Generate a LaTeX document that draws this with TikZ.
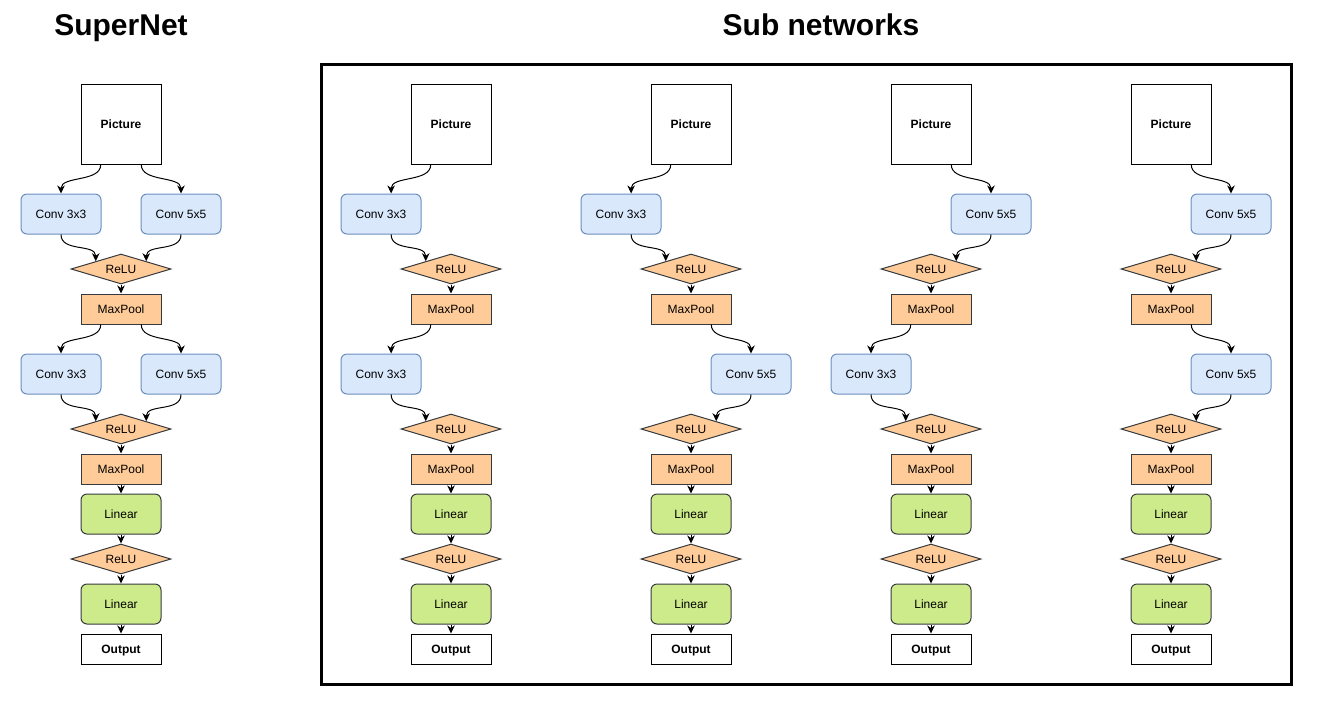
\documentclass[tikz,border=0pt]{standalone}
\usepackage{fontspec}
\setmainfont{Liberation Sans}
\usetikzlibrary{shapes.geometric,arrows.meta,calc}
\definecolor{convfill}{HTML}{DAE8FC}
\definecolor{convline}{HTML}{6C8EBF}
\definecolor{orangefill}{HTML}{FFCC99}
\definecolor{darkline}{HTML}{36393D}
\definecolor{greenfill}{HTML}{CDEB8B}
\newcommand\cv[2]{\draw[conn] (#1) .. controls +(0,18) and +(0,-18) .. (#2);}
\newcommand\st[2]{\draw[conn] (#1) -- (#2);}
\newcommand\colhead[2]{%
  \node[picbox] (#1pic) at (#2,124) {Picture};
  \node[relubox] (#1r1) at (#2,269) {ReLU};
  \node[poolbox] (#1m1) at (#2,309) {MaxPool};
  \st{#1r1.south}{#1m1.north}}
\newcommand\coltail[2]{%
  \node[relubox] (#1r2) at (#2,429) {ReLU};
  \node[poolbox] (#1m2) at (#2,469) {MaxPool};
  \node[linbox] (#1l1) at (#2,514) {Linear};
  \node[relubox] (#1r3) at (#2,559) {ReLU};
  \node[linbox] (#1l2) at (#2,604) {Linear};
  \node[outbox] (#1o) at (#2,649) {Output};
  \st{#1r2.south}{#1m2.north}
  \st{#1m2.south}{#1l1.north}
  \st{#1l1.south}{#1r3.north}
  \st{#1r3.south}{#1l2.north}
  \st{#1l2.south}{#1o.north}}
\begin{document}
\begin{tikzpicture}[x=1pt,y=-1pt,
  every node/.style={font=\fontsize{12}{14}\selectfont, text=black, inner sep=0pt, text height=8.6pt, text depth=0pt},
  base/.style={draw, line width=1pt},
  picbox/.style={base, draw=black, fill=white, minimum width=80pt, minimum height=80pt, font=\fontsize{12}{14}\selectfont\bfseries},
  outbox/.style={picbox, minimum height=30pt},
  convbox/.style={base, draw=convline, fill=convfill, rounded corners=6pt, minimum width=80pt, minimum height=40pt},
  relubox/.style={base, diamond, draw=darkline, fill=orangefill, minimum width=100pt, minimum height=30pt, aspect=3.333},
  poolbox/.style={base, draw=darkline, fill=orangefill, minimum width=80pt, minimum height=30pt},
  linbox/.style={base, draw=darkline, fill=greenfill, rounded corners=6pt, minimum width=80pt, minimum height=40pt},
  conn/.style={draw=black, line width=1pt, -{Stealth[length=8pt,width=7.5pt,inset=2.5pt]}},
  title/.style={font=\fontsize{30}{36}\selectfont\bfseries, anchor=base, text height=, text depth=},
]
\useasboundingbox (0,0) rectangle (1322,705);
\node[title] (t1) at (121,35) {SuperNet};
\node[title] (t2) at (821,35) {Sub networks};
\draw[line width=3pt] (321.5,64.5) rectangle (1291.5,684.5);

% ---- SuperNet ----
\colhead{s}{121}
\coltail{s}{121}
\node[convbox] (sc1a) at (61,214) {Conv 3x3};
\node[convbox] (sc1b) at (181,214) {Conv 5x5};
\node[convbox] (sc2a) at (61,374) {Conv 3x3};
\node[convbox] (sc2b) at (181,374) {Conv 5x5};
\cv{$(spic.south)!0.5!(spic.south west)$}{sc1a.north}
\cv{$(spic.south)!0.5!(spic.south east)$}{sc1b.north}
\cv{sc1a.south}{$(sr1.north)!0.5!(sr1.west)$}
\cv{sc1b.south}{$(sr1.north)!0.5!(sr1.east)$}
\cv{$(sm1.south)!0.5!(sm1.south west)$}{sc2a.north}
\cv{$(sm1.south)!0.5!(sm1.south east)$}{sc2b.north}
\cv{sc2a.south}{$(sr2.north)!0.5!(sr2.west)$}
\cv{sc2b.south}{$(sr2.north)!0.5!(sr2.east)$}

% ---- Subnet 1 ----
\colhead{a}{451}
\coltail{a}{451}
\node[convbox] (ac1) at (381,214) {Conv 3x3};
\node[convbox] (ac2) at (381,374) {Conv 3x3};
\cv{$(apic.south)!0.5!(apic.south west)$}{$(ac1.north)!0.25!(ac1.north east)$}
\cv{$(ac1.south)!0.25!(ac1.south east)$}{$(ar1.north)!0.5!(ar1.west)$}
\cv{$(am1.south)!0.5!(am1.south west)$}{$(ac2.north)!0.25!(ac2.north east)$}
\cv{$(ac2.south)!0.25!(ac2.south east)$}{$(ar2.north)!0.5!(ar2.west)$}

% ---- Subnet 2 ----
\colhead{b}{691}
\coltail{b}{691}
\node[convbox] (bc1) at (621,214) {Conv 3x3};
\node[convbox] (bc2) at (751,374) {Conv 5x5};
\cv{$(bpic.south)!0.5!(bpic.south west)$}{$(bc1.north)!0.25!(bc1.north east)$}
\cv{$(bc1.south)!0.25!(bc1.south east)$}{$(br1.north)!0.5!(br1.west)$}
\cv{$(bm1.south)!0.5!(bm1.south east)$}{bc2.north}
\cv{bc2.south}{$(br2.north)!0.5!(br2.east)$}

% ---- Subnet 3 ----
\colhead{d}{931}
\coltail{d}{931}
\node[convbox] (dc1) at (991,214) {Conv 5x5};
\node[convbox] (dc2) at (871,374) {Conv 3x3};
\cv{$(dpic.south)!0.5!(dpic.south east)$}{dc1.north}
\cv{dc1.south}{$(dr1.north)!0.5!(dr1.east)$}
\cv{$(dm1.south)!0.5!(dm1.south west)$}{dc2.north}
\cv{dc2.south}{$(dr2.north)!0.5!(dr2.west)$}

% ---- Subnet 4 ----
\colhead{e}{1171}
\coltail{e}{1171}
\node[convbox] (ec1) at (1231,214) {Conv 5x5};
\node[convbox] (ec2) at (1231,374) {Conv 5x5};
\cv{$(epic.south)!0.5!(epic.south east)$}{ec1.north}
\cv{ec1.south}{$(er1.north)!0.5!(er1.east)$}
\cv{$(em1.south)!0.5!(em1.south east)$}{ec2.north}
\cv{ec2.south}{$(er2.north)!0.5!(er2.east)$}
\end{tikzpicture}
\end{document}
